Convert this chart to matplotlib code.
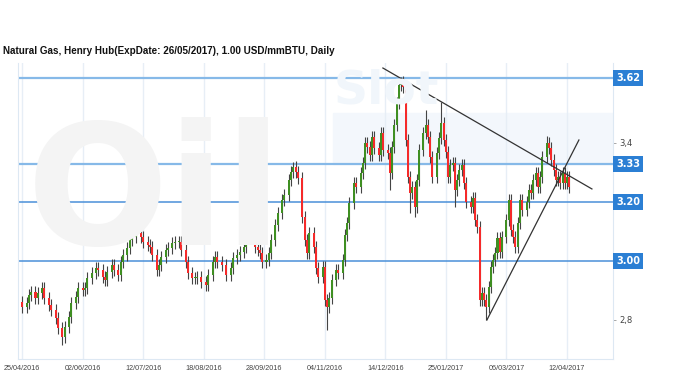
import numpy as np
import matplotlib
matplotlib.use("Agg")
import matplotlib.pyplot as plt
from matplotlib.transforms import blended_transform_factory

# trading-day number of each candle (0 = 25/04/2016)
days = [0, 2, 3, 4, 6, 7, 9, 10, 12, 13, 15, 16, 18, 19, 21, 22, 24, 25, 27, 28, 29, 31, 33, 34, 36, 37, 38, 40, 41, 43,
        44, 45, 47, 48, 49, 51, 53, 54, 56, 57, 58, 60, 61, 62, 64, 65, 67, 68, 70, 71, 73, 74, 76, 77, 78, 80, 82, 83, 85, 86, 87,
        89, 91, 93, 94, 96, 97, 99, 100, 102, 103, 104, 105, 106, 107, 109, 110, 111, 113, 114, 116, 117, 119, 120, 121, 122, 123, 125, 126, 127, 128, 130, 131, 132, 134,
        135, 136, 137, 138, 140, 141, 143, 144, 145, 146, 148, 149, 151, 152, 153, 154, 155, 156, 157, 159, 160, 161, 163, 164, 165, 166, 167, 168, 169, 170, 171, 172, 173, 174, 175, 176,
        177, 179, 180, 181, 182, 183, 185, 186, 187, 188, 189, 190, 191, 192, 193, 194, 195, 196, 197, 198, 200, 201, 202, 203, 204, 205, 206, 207, 208, 209, 210, 211, 212,
        213, 214, 216, 217, 218, 219, 220, 221, 222, 223, 225, 226, 227, 228, 229, 230, 231, 232, 234, 235, 236, 237, 238, 239, 240, 241, 242, 243, 244]

opens = [2.86, 2.844, 2.857, 2.884, 2.895, 2.874, 2.89, 2.908, 2.874, 2.85, 2.834, 2.806, 2.773, 2.742, 2.776, 2.81, 2.857, 2.878, 2.908, 2.90, 2.908, 2.942, 2.959, 2.976, 2.97, 2.946, 2.935, 2.962, 2.986, 2.969,
         2.952, 2.996, 3.02, 3.044, 3.071, 3.081, 3.095, 3.081, 3.064, 3.054, 3.047, 3.02, 2.969, 2.986, 3.013, 3.037, 3.044, 3.061, 3.064, 3.064, 3.037, 2.996, 2.959, 2.942, 2.942, 2.946, 2.928, 2.918, 2.952, 2.996, 3.013,
         2.996, 2.986, 2.952, 2.976, 3.01, 3.02, 3.03, 3.047, 3.078, 3.095, 3.098, 3.047, 3.037, 3.027, 2.996, 3.003, 3.027, 3.071, 3.122, 3.162, 3.206, 3.223, 3.274, 3.301, 3.318, 3.301, 3.281, 3.149, 3.071, 3.027, 3.095, 3.047, 2.976, 2.946,
         2.979, 2.867, 2.844, 2.874, 2.935, 2.969, 2.959, 3.003, 3.088, 3.128, 3.196, 3.264, 3.25, 3.298, 3.332, 3.40, 3.386, 3.359, 3.42, 3.383, 3.359, 3.434, 3.376, 3.366, 3.298, 3.386, 3.46, 3.535, 3.596, 3.606, 3.589, 3.41, 3.284, 3.23, 3.25, 3.183,
         3.274, 3.376, 3.434, 3.46, 3.42, 3.352, 3.284, 3.366, 3.417, 3.467, 3.41, 3.37, 3.284, 3.325, 3.332, 3.24, 3.274, 3.308, 3.325, 3.264, 3.20, 3.183, 3.213, 3.139, 3.115, 2.867, 2.891, 2.867, 2.844, 2.912, 2.979, 3.003, 3.027,
         3.078, 3.03, 3.081, 3.139, 3.206, 3.105, 3.081, 3.047, 3.128, 3.206, 3.173, 3.20, 3.24, 3.23, 3.274, 3.298, 3.25, 3.284, 3.352, 3.40, 3.383, 3.342, 3.308, 3.274, 3.284, 3.264, 3.298, 3.264, 3.284]

closes = [2.844, 2.857, 2.884, 2.895, 2.874, 2.89, 2.908, 2.874, 2.85, 2.834, 2.806, 2.773, 2.742, 2.776, 2.81, 2.857, 2.878, 2.908, 2.90, 2.908, 2.942, 2.959, 2.976, 2.97, 2.946, 2.935, 2.962, 2.986, 2.969, 2.952,
          2.996, 3.02, 3.044, 3.071, 3.081, 3.095, 3.081, 3.064, 3.054, 3.047, 3.02, 2.969, 2.986, 3.013, 3.037, 3.044, 3.061, 3.064, 3.064, 3.037, 2.996, 2.959, 2.942, 2.942, 2.946, 2.928, 2.918, 2.952, 2.996, 3.013, 2.996,
          2.986, 2.952, 2.976, 3.01, 3.02, 3.03, 3.047, 3.078, 3.095, 3.098, 3.047, 3.037, 3.027, 2.996, 3.003, 3.027, 3.071, 3.122, 3.162, 3.206, 3.223, 3.274, 3.301, 3.318, 3.301, 3.281, 3.149, 3.071, 3.027, 3.095, 3.047, 2.976, 2.946, 2.979,
          2.867, 2.844, 2.874, 2.935, 2.969, 2.959, 3.003, 3.088, 3.128, 3.196, 3.264, 3.25, 3.298, 3.332, 3.40, 3.386, 3.359, 3.42, 3.383, 3.359, 3.434, 3.376, 3.366, 3.298, 3.386, 3.46, 3.535, 3.596, 3.606, 3.589, 3.41, 3.284, 3.23, 3.25, 3.183, 3.274,
          3.376, 3.434, 3.46, 3.42, 3.352, 3.284, 3.366, 3.417, 3.467, 3.41, 3.37, 3.284, 3.325, 3.332, 3.24, 3.274, 3.308, 3.325, 3.264, 3.20, 3.183, 3.213, 3.139, 3.115, 2.867, 2.891, 2.867, 2.844, 2.912, 2.979, 3.003, 3.027, 3.078,
          3.03, 3.081, 3.139, 3.206, 3.105, 3.081, 3.047, 3.128, 3.206, 3.173, 3.20, 3.24, 3.23, 3.274, 3.298, 3.25, 3.284, 3.352, 3.40, 3.383, 3.342, 3.308, 3.274, 3.284, 3.264, 3.298, 3.264, 3.284, 3.25]

# usual wick length, plus the extremes that stand out
wick = 0.02
high_extremes = {121: 3.335, 169: 3.625, 180: 3.51, 187: 3.539, 234: 3.425}
low_extremes = {18: 2.715, 136: 2.766, 164: 3.24, 173: 3.163, 175: 3.15, 193: 3.183, 207: 2.80}

levels = [3.62, 3.33, 3.20, 3.00]
level_labels = ["3.62", "3.33", "3.20", "3.00"]

tick_days = [0, 27, 54, 81, 108, 135, 162, 189, 216, 243]
tick_labels = ["25/04/2016", "02/06/2016", "12/07/2016", "18/08/2016", "28/09/2016",
               "04/11/2016", "14/12/2016", "25/01/2017", "06/03/2017", "12/04/2017"]

# hand-drawn trend lines (day, price)
down_line = ([160.9, 254.1], [3.654, 3.244])
up_line = ([207.3, 248.3], [2.800, 3.41])

o = np.array(opens)
c = np.array(closes)
d = np.array(days)
hi = np.maximum(o, c) + wick
lo = np.minimum(o, c) - wick
for k, v in high_extremes.items():
    hi[days.index(k)] = v
for k, v in low_extremes.items():
    lo[days.index(k)] = v

fig = plt.figure(figsize=(6.8, 3.81), dpi=100)
ax = fig.add_axes([18 / 680, 22 / 381, 595 / 680, 296 / 381])

# faint watermark
fig.text(0.04, 0.48, "Oil", fontsize=120, fontweight="bold", color="#f4f4f4", va="center", zorder=0)
fig.text(0.49, 0.76, "Slot", fontsize=34, fontweight="bold", color="#f1f6fb", va="center", zorder=0)
ax.axhspan(3.33, 3.50, xmin=0.53, xmax=1.0, color="#f3f7fc", zorder=0)

ax.set_xlim(-1.8, 263.5)
ax.set_ylim(2.6675, 3.671)

for t in tick_days:
    ax.axvline(t, color="#e7eef6", lw=1, zorder=0.5)

for lv in levels[:2]:
    ax.axhline(lv, color="#86b9e8", lw=1.6, zorder=1)
for lv in levels[2:]:
    ax.axhline(lv, color="#4a90d9", lw=1.1, zorder=1)

colors = np.where(c >= o, "#3f8f22", "#f52a2a")
ax.vlines(d, lo, hi, color="#444444", lw=0.8, zorder=2)
body = np.where(np.abs(c - o) < 0.004, 0.004, c - o)
ax.bar(d, body, bottom=o, width=0.9, color=colors, zorder=3, linewidth=0)

ax.plot(*down_line, color="#333333", lw=0.9, zorder=4)
ax.plot(*up_line, color="#333333", lw=0.9, zorder=4)

trans = blended_transform_factory(ax.transAxes, ax.transData)
for lv, lab in zip(levels, level_labels):
    ax.text(1.005, lv, lab, transform=trans, ha="left", va="center", color="white",
            fontsize=7, fontweight="bold", zorder=10, clip_on=False,
            bbox=dict(boxstyle="square,pad=0.3", fc="#2b7fd4", ec="none"))

ax.set_xticks(tick_days)
ax.set_xticklabels(tick_labels, fontsize=5.2, color="#444444", family="Liberation Sans")
ax.tick_params(axis="x", length=0, pad=4)
ax.set_yticks([2.8, 3.0, 3.2, 3.4, 3.6])
ax.set_yticklabels(["2,8", "", "", "3,4", ""], fontsize=6, color="#444444")
ax.yaxis.tick_right()
ax.tick_params(axis="y", length=2.5, width=0.6, color="#999999", pad=2)

for s in ["left", "right", "bottom"]:
    ax.spines[s].set_color("#dde8f3")
ax.spines["top"].set_visible(False)

fig.text(0.004, 1 - 51 / 381, "Natural Gas, Henry Hub(ExpDate: 26/05/2017), 1.00 USD/mmBTU, Daily",
         fontsize=7.1, fontweight="bold", color="#111111", va="center", ha="left",
         family="Liberation Sans")

fig.savefig("out.png", dpi=100)
